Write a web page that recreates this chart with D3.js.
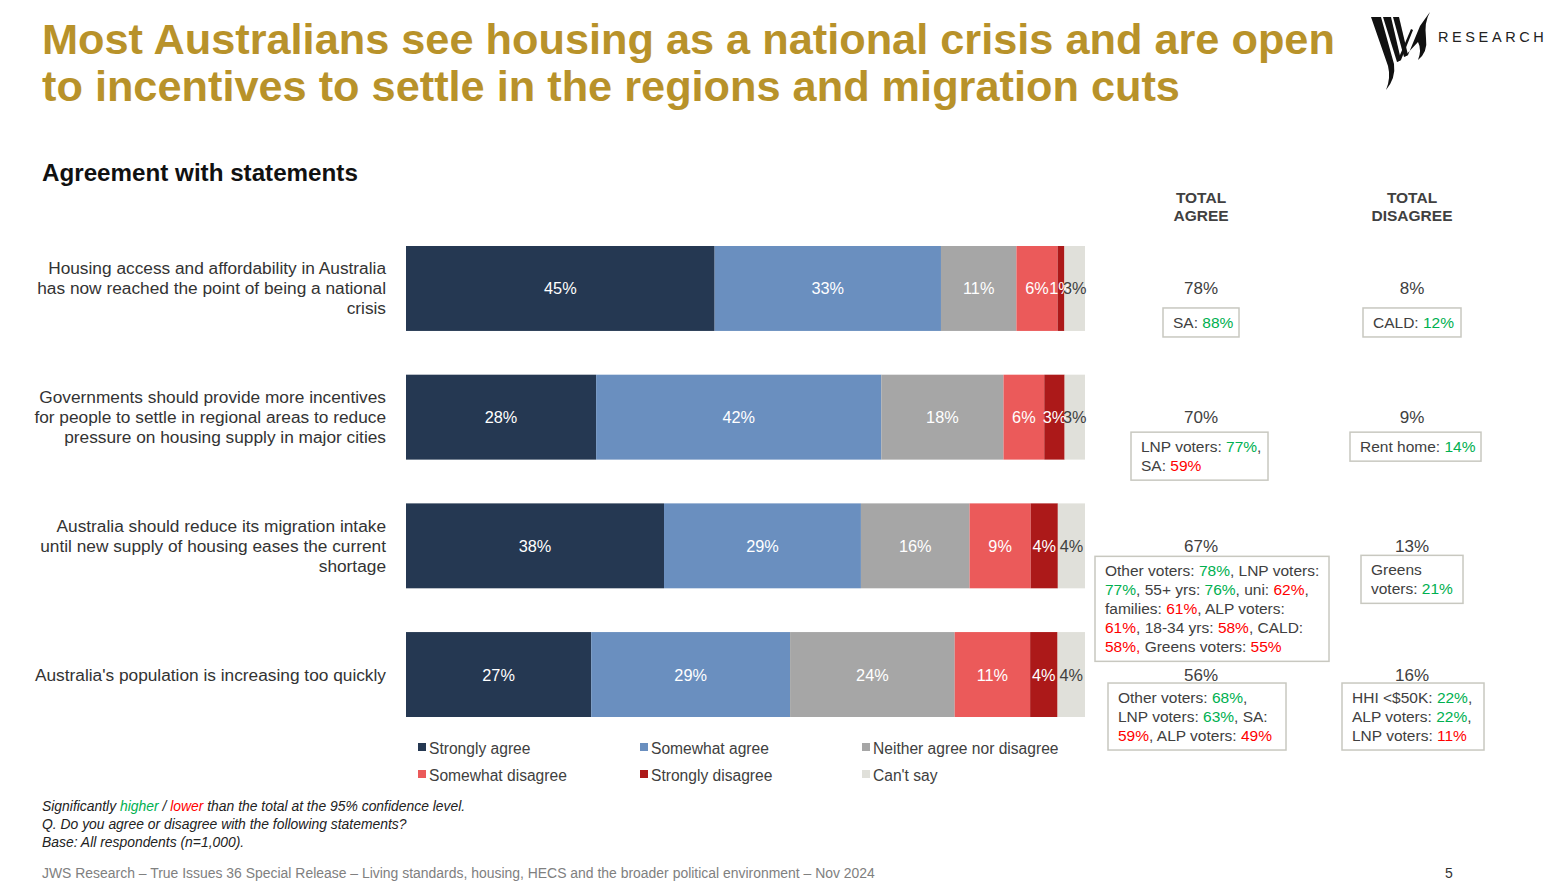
<!DOCTYPE html>
<html><head><meta charset="utf-8">
<script src="https://cdn.jsdelivr.net/npm/d3@7"></script>
<style>
body{margin:0;background:#fff;}
svg{display:block;font-family:"Liberation Sans",Arial,sans-serif;}
</style></head>
<body>
<svg id="c" width="1557" height="883"></svg>
<script>
// ---------- DATA ----------
const statements = [
  ["Housing access and affordability in Australia","has now reached the point of being a national","crisis"],
  ["Governments should provide more incentives","for people to settle in regional areas to reduce","pressure on housing supply in major cities"],
  ["Australia should reduce its migration intake","until new supply of housing eases the current","shortage"],
  ["Australia's population is increasing too quickly"]
];
const responses = ["Strongly agree","Somewhat agree","Neither agree nor disagree","Somewhat disagree","Strongly disagree","Can't say"];
const stronglyAgree    = [45, 28, 38, 27];
const somewhatAgree    = [33, 42, 29, 29];
const neither          = [11, 18, 16, 24];
const somewhatDisagree = [6, 6, 9, 11];
const stronglyDisagree = [1, 3, 4, 4];
const cantSay          = [3, 3, 4, 4];
const totalAgree    = [78, 70, 67, 56];
const totalDisagree = [8, 9, 13, 16];
// notes: lines of [text, tone] ; tone: n normal, h higher, l lower
const agreeNotes = [
  [[["SA: ","n"],["88%","h"]]],
  [[["LNP voters: ","n"],["77%","h"],[",","n"]],[["SA: ","n"],["59%","l"]]],
  [[["Other voters: ","n"],["78%","h"],[", LNP voters:","n"]],
   [["77%","h"],[", 55+ yrs: ","n"],["76%","h"],[", uni: ","n"],["62%","l"],[",","n"]],
   [["families: ","n"],["61%","l"],[", ALP voters:","n"]],
   [["61%","l"],[", 18-34 yrs: ","n"],["58%","l"],[", CALD:","n"]],
   [["58%,","l"],[" Greens voters: ","n"],["55%","l"]]],
  [[["Other voters: ","n"],["68%","h"],[",","n"]],
   [["LNP voters: ","n"],["63%","h"],[", SA:","n"]],
   [["59%","l"],[", ALP voters: ","n"],["49%","l"]]]
];
const disagreeNotes = [
  [[["CALD: ","n"],["12%","h"]]],
  [[["Rent home: ","n"],["14%","h"]]],
  [[["Greens","n"]],[["voters: ","n"],["21%","h"]]],
  [[["HHI <$50K: ","n"],["22%","h"],[",","n"]],
   [["ALP voters: ","n"],["22%","h"],[",","n"]],
   [["LNP voters: ","n"],["11%","l"]]]
];

// ---------- STYLE / LAYOUT ----------
const colors = ["#253852","#6a8fbf","#a6a6a6","#eb5a5a","#ac1919","#e0e0da"];
const toneColor = {n:"#404040", h:"#00b050", l:"#ff0000"};
const gold = "#b8922a";
const agreeBox = {left:[1163,1131,1095,1108], width:[76,137,234,178], dy:[19.5,15,10.5,8.5]};
const disBox   = {left:[1363,1350,1361,1342], width:[98,131,102,142], dy:[19.5,15,9.5,8.5]};
const colAgreeX = 1201, colDisX = 1412;

const svg = d3.select("#c");

// Title
const title = svg.append("text").attr("fill",gold).attr("font-weight","bold").attr("font-size",43.3);
title.append("tspan").attr("x",42).attr("y",54).text("Most Australians see housing as a national crisis and are open");
title.append("tspan").attr("x",42).attr("y",101).text("to incentives to settle in the regions and migration cuts");

// Logo
const logo = svg.append("g").attr("fill","#111");
const logoShapes = [
  "M1371,17 L1381,17 L1394,64 Q1396,78 1386,90 Q1391,78 1388,66 Z",
  "M1383,17 L1391,17 L1401,60 L1397,62 Z",
  "M1393,17 L1399,17 L1408,55 L1404,57 Z",
  "M1397,62 L1401,60 L1413,30 L1411,29 Z",
  "M1404,57 L1408,55 L1420,26 Q1427,16 1430,12 Q1424,22 1426,38 Q1428,52 1418,60 Q1422,50 1418,42 Z"
];
logoShapes.forEach(p=>logo.append("path").attr("d",p));
svg.append("text").attr("x",1438).attr("y",42).attr("font-size",14.5).attr("letter-spacing",3.6)
  .attr("fill","#222").text("RESEARCH");

// Subtitle
svg.append("text").attr("x",42).attr("y",181).attr("font-size",24.2).attr("font-weight","bold")
  .attr("fill","#111").text("Agreement with statements");

// Column headers
[[colAgreeX,["TOTAL","AGREE"]],[colDisX,["TOTAL","DISAGREE"]]].forEach(([x,lines])=>{
  const t = svg.append("text").attr("text-anchor","middle").attr("font-weight","bold")
    .attr("font-size",15.5).attr("fill","#404040");
  lines.forEach((l,i)=>t.append("tspan").attr("x",x).attr("y",203+i*17.5).text(l));
});

// Scales
const y = d3.scaleBand().domain(d3.range(statements.length)).range([246,717]).paddingInner(0.34).paddingOuter(0);
const x = d3.scaleLinear().domain([0,1]).range([406,1085]);
const color = d3.scaleOrdinal().domain(responses).range(colors);

const rows = statements.map((s,i)=>({
  idx:i,
  [responses[0]]:stronglyAgree[i],[responses[1]]:somewhatAgree[i],[responses[2]]:neither[i],
  [responses[3]]:somewhatDisagree[i],[responses[4]]:stronglyDisagree[i],[responses[5]]:cantSay[i]
}));
const series = d3.stack().keys(responses).offset(d3.stackOffsetExpand)(rows);

const gBars = svg.append("g");
series.forEach((ser,k)=>{
  ser.forEach((d,i)=>{
    gBars.append("rect").attr("x",x(d[0])).attr("y",y(i)).attr("width",x(d[1])-x(d[0]))
      .attr("height",y.bandwidth()).attr("fill",color(ser.key));
  });
});
series.forEach((ser,k)=>{
  ser.forEach((d,i)=>{
    gBars.append("text").attr("x",(x(d[0])+x(d[1]))/2).attr("y",y(i)+y.bandwidth()/2+6)
      .attr("text-anchor","middle").attr("font-size",16.3)
      .attr("fill",k===5?"#404040":"#fff").text(d.data[ser.key]+"%");
  });
});

// Category labels
statements.forEach((lines,i)=>{
  const cy = y(i)+y.bandwidth()/2;
  const t = svg.append("text").attr("text-anchor","end").attr("font-size",17.3).attr("fill","#333");
  const n = lines.length;
  lines.forEach((l,j)=>t.append("tspan").attr("x",386).attr("y",cy+6+(j-(n-1)/2)*20).text(l));
});

// Totals and notes
function drawNote(left, top, width, lines){
  svg.append("rect").attr("x",left).attr("y",top).attr("width",width).attr("height",19*lines.length+10)
    .attr("fill","#fff").attr("stroke","#c8c8c0").attr("stroke-width",1.5);
  lines.forEach((segs,j)=>{
    const t = svg.append("text").attr("x",left+10).attr("y",top+20+j*19).attr("font-size",15.5);
    segs.forEach(([txt,tone])=>t.append("tspan").attr("fill",toneColor[tone]).text(txt));
  });
}
statements.forEach((s,i)=>{
  const cy = y(i)+y.bandwidth()/2;
  svg.append("text").attr("x",colAgreeX).attr("y",cy+6).attr("text-anchor","middle")
    .attr("font-size",17).attr("fill","#404040").text(totalAgree[i]+"%");
  svg.append("text").attr("x",colDisX).attr("y",cy+6).attr("text-anchor","middle")
    .attr("font-size",17).attr("fill","#404040").text(totalDisagree[i]+"%");
  drawNote(agreeBox.left[i], cy+agreeBox.dy[i], agreeBox.width[i], agreeNotes[i]);
  drawNote(disBox.left[i], cy+disBox.dy[i], disBox.width[i], disagreeNotes[i]);
});

// Legend
const legX = [418,640,862], legY = [748,775];
responses.forEach((r,i)=>{
  const lx = legX[i%3], ly = legY[Math.floor(i/3)];
  svg.append("rect").attr("x",lx).attr("y",ly-5).attr("width",8).attr("height",8).attr("fill",color(r));
  svg.append("text").attr("x",lx+11).attr("y",ly+5.5).attr("font-size",15.6).attr("fill","#404040").text(r);
});

// Footnotes
const fs = 13.9;
const f1 = svg.append("text").attr("x",42).attr("y",811).attr("font-size",fs).attr("font-style","italic").attr("fill","#222");
f1.append("tspan").text("Significantly ");
f1.append("tspan").attr("fill","#00b050").text("higher");
f1.append("tspan").text(" / ");
f1.append("tspan").attr("fill","#ff0000").text("lower");
f1.append("tspan").text(" than the total at the 95% confidence level.");
svg.append("text").attr("x",42).attr("y",829).attr("font-size",fs).attr("font-style","italic").attr("fill","#222")
  .text("Q. Do you agree or disagree with the following statements?");
svg.append("text").attr("x",42).attr("y",847).attr("font-size",fs).attr("font-style","italic").attr("fill","#222")
  .text("Base: All respondents (n=1,000).");
svg.append("text").attr("x",42).attr("y",878).attr("font-size",13.95).attr("fill","#808080")
  .text("JWS Research \u2013 True Issues 36 Special Release \u2013 Living standards, housing, HECS and the broader political environment \u2013 Nov 2024");
svg.append("text").attr("x",1449).attr("y",878).attr("font-size",14).attr("text-anchor","middle").attr("fill","#333").text("5");
</script>
</body></html>
